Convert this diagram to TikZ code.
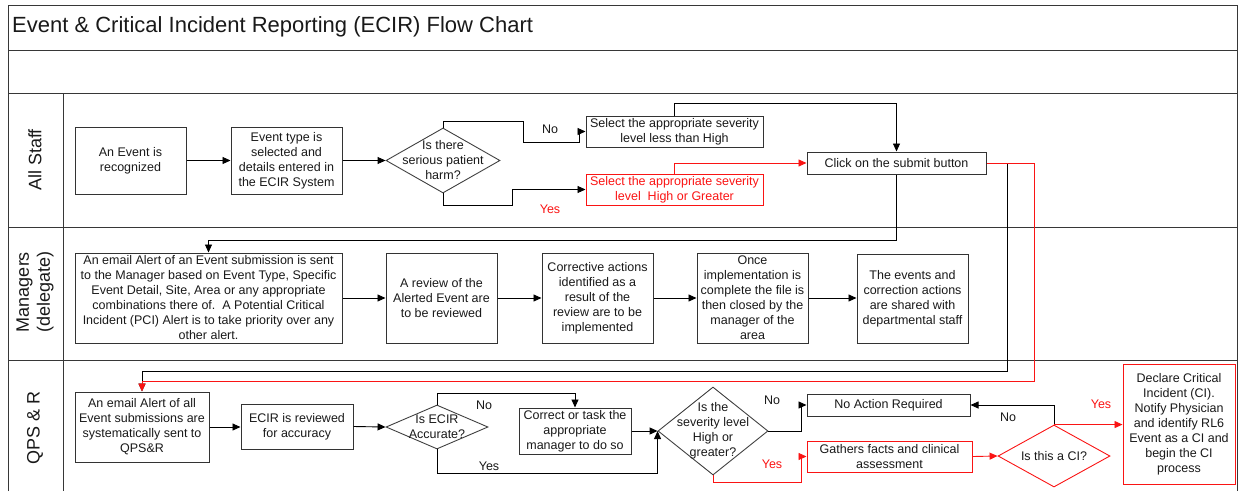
\documentclass[tikz,border=0pt]{standalone}
\usepackage{fontspec}
\setmainfont{Liberation Sans}
\usetikzlibrary{arrows.meta,shapes.geometric,calc}
\definecolor{ecred}{RGB}{250,20,20}
\definecolor{framec}{RGB}{55,55,55}
\begin{document}
\begin{tikzpicture}[x=1pt,y=-1pt,
  txt/.style={font=\fontsize{12.5}{15}\selectfont, align=center, text=black!90},
  box/.style={txt, draw=black!80, line width=1pt, inner sep=0pt, rectangle},
  redbox/.style={box, draw=ecred},
  dia/.style={draw=black!75, line width=0.9pt, shape=diamond, inner sep=0pt},
  reddia/.style={dia, draw=ecred},
  arr/.style={-{Triangle[length=8pt,width=7pt]}, line width=0.9pt, black},
  redarr/.style={arr, ecred},
  plain/.style={line width=0.9pt, black},
  lbl/.style={txt},
  redlbl/.style={txt, text=ecred},
  lane/.style={font=\fontsize{18}{21}\selectfont, align=center, rotate=90, text=black!90},
  frameline/.style={draw=framec, line width=1pt}
]
\useasboundingbox (0,0) rectangle (1239,491);
% frame
\draw[frameline] (8,491) -- (8,5) -- (1237,5) -- (1237,491);
\draw[frameline] (8,50) -- (1237,50);
\draw[frameline] (8,93) -- (1237,93);
\draw[frameline] (8,227) -- (1237,227);
\draw[frameline] (8,360) -- (1237,360);
\draw[frameline] (63,93) -- (63,491);
\node[anchor=west, font=\fontsize{22}{26}\selectfont, text=black!90, inner sep=0pt] (title) at (12,27) {Event \& Critical Incident Reporting (ECIR) Flow Chart};
\node[lane] (lane1) at (35,160) {All Staff};
\node[lane] (lane2) at (35,292) {Managers\\(delegate)};
\node[lane] (lane3) at (35,428) {QPS \& R};

% All staff
\node[box, minimum width=111pt, minimum height=67pt] (ev) at (130.5,160.5) {An Event is\\recognized};
\node[box, minimum width=111pt, minimum height=67pt] (etype) at (286.5,160.5) {Event type is\\selected and\\details entered in\\the ECIR System};
\node[dia, minimum width=114pt, minimum height=65pt] (harm) at (443,160.5) {};
\node[txt] (harmt) at (harm.center) {Is there\\serious patient\\harm?};
\node[box, minimum width=177pt, minimum height=31pt] (less) at (674.5,131.5) {Select the appropriate severity\\level less than High};
\node[redbox, text=ecred, minimum width=177pt, minimum height=31pt] (high) at (674.5,189.5) {Select the appropriate severity\\level\ \ High or Greater};
\node[box, minimum width=179pt, minimum height=22pt] (submit) at (896.5,163) {Click on the submit button};

% Managers
\node[box, minimum width=267pt, minimum height=90pt] (email) at (208.5,298) {An email Alert of an Event submission is sent\\to the Manager based on Event Type, Specific\\Event Detail, Site, Area or any appropriate\\combinations there of.\ \ A Potential Critical\\Incident (PCI) Alert is to take priority over any\\other alert.};
\node[box, minimum width=111pt, minimum height=90pt] (review) at (441.5,298) {A review of the\\Alerted Event are\\to be reviewed};
\node[box, minimum width=111pt, minimum height=90pt] (corr) at (597.5,298) {Corrective actions\\identified as a\\result of the\\review are to be\\implemented};
\node[box, minimum width=111pt, minimum height=90pt] (once) at (752.5,298) {Once\\implementation is\\complete the file is\\then closed by the\\manager of the\\area};
\node[box, minimum width=111pt, minimum height=89pt] (shared) at (912.5,298.5) {The events and\\correction actions\\are shared with\\departmental staff};

% QPS & R
\node[box, minimum width=134pt, minimum height=70pt] (qemail) at (142,427) {An email Alert of all\\Event submissions are\\systematically sent to\\QPS\&R};
\node[box, minimum width=112pt, minimum height=45pt] (ecir) at (297,426.5) {ECIR is reviewed\\for accuracy};
\node[dia, minimum width=102pt, minimum height=44pt] (acc) at (437,427) {};
\node[txt] (acct) at (acc.center) {Is ECIR\\Accurate?};
\node[box, minimum width=112pt, minimum height=46pt] (task) at (575,431) {Correct or task the\\appropriate\\manager to do so};
\node[dia, minimum width=110pt, minimum height=88pt] (sev) at (713,431) {};
\node[txt] (sevt) at (sev.center) {Is the\\severity level\\High or\\greater?};
\node[box, minimum width=163pt, minimum height=22pt] (noact) at (888.5,405) {No Action Required};
\node[redbox, minimum width=165pt, minimum height=31pt] (gather) at (889.5,456.5) {Gathers facts and clinical\\assessment};
\node[reddia, minimum width=112pt, minimum height=62pt] (ci) at (1054,456) {};
\node[txt] (cit) at (ci.center) {Is this a CI?};
\node[redbox, minimum width=112pt, minimum height=120pt] (declare) at (1179,424) {Declare Critical\\Incident (CI).\\Notify Physician\\and identify RL6\\Event as a CI and\\begin the CI\\process};

% connectors: all staff
\draw[arr] (ev.east) -- (etype.west);
\draw[arr] (etype.east) -- (harm.west);
\draw[arr] (harm.north) |- (523,121) |- (579,142) |- (less.west);
\draw[arr] (harm.south) |- (512,205) |- (high.west);
\draw[redarr] (high.north) |- (submit.west);
\draw[arr] (less.north) -- ++(0,-12) -| (submit.north);
\draw[arr] (submit.south) -- ++(0,66) -| (email.north);
\draw[arr] (submit.east) -- ++(21,0) -- ++(0,208) -| (qemail.north);
\draw[redarr] (submit.east) -- ++(48,0) -- ++(0,218) -| (qemail.north);
\node[lbl] (no1) at (550,129) {No};
\node[redlbl] (yes1) at (550,209) {Yes};

% managers
\draw[arr] (email.east) -- (review.west);
\draw[arr] (review.east) -- (corr.west);
\draw[arr] (corr.east) -- (once.west);
\draw[arr] (once.east) -- (shared.west |- once.east);

% QPS
\draw[arr] (qemail.east) -- (ecir.west |- qemail.east);
\draw[arr] (ecir.east) -- (acc.west);
\draw[arr] (acc.north) -- ++(0,-11) -| (task.north);
\draw[arr] (acc.south) -- ++(0,24) -| (sev.west);
\draw[arr] (task.east) -- (sev.west);
\draw[arr] (sev.east) -- ++(33,0) |- (noact.west);
\draw[redarr] (sev.south) -- ++(0,7) -- ++(88,0) |- (gather.west);
\draw[redarr] (gather.east) -- (ci.west);
\draw[arr] (ci.north) |- (noact.east);
\draw[redarr] (ci.north) -- (ci.north -| declare.west);
\node[lbl] (no2) at (484,405) {No};
\node[lbl] (yes2) at (489,466) {Yes};
\node[lbl] (no3) at (772,400) {No};
\node[redlbl] (yes3) at (772,464) {Yes};
\node[lbl] (no4) at (1008,417) {No};
\node[redlbl] (yes4) at (1101,404) {Yes};
\end{tikzpicture}
\end{document}
